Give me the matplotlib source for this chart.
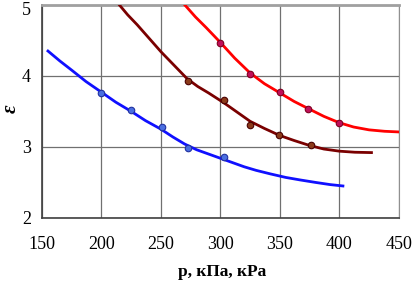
import matplotlib
matplotlib.use("Agg")
import matplotlib.pyplot as plt
import matplotlib.transforms as mtransforms

# blue curve + points
blue_p = [155, 165, 175, 187, 200, 212, 225, 237, 250, 260, 270, 280, 290, 300, 310, 320,
          330, 342, 355, 367, 380, 392, 403]
blue_e = [4.35, 4.21, 4.08, 3.92, 3.77, 3.63, 3.50, 3.37, 3.25, 3.14, 3.04, 2.96, 2.90, 2.84,
          2.78, 2.72, 2.67, 2.62, 2.57, 2.535, 2.50, 2.47, 2.45]
blue_pts_p = [200, 225, 251, 273, 303]
blue_pts_e = [3.76, 3.52, 3.28, 2.98, 2.86]

# dark red curve + points
dred_p = [215, 222, 230, 240, 250, 261, 272, 281, 290, 303, 314, 325, 337, 350, 362, 375,
          387, 400, 413, 427]
dred_e = [5.0, 4.86, 4.72, 4.53, 4.34, 4.15, 3.96, 3.85, 3.76, 3.62, 3.49, 3.36, 3.26, 3.16,
          3.09, 3.02, 2.97, 2.94, 2.925, 2.92]
dred_pts_p = [273, 303, 325, 349, 376]
dred_pts_e = [3.93, 3.66, 3.31, 3.17, 3.03]

# red curve + points
red_p = [270, 279, 288, 300, 312, 325, 337, 350, 362, 375, 387, 400, 412, 425, 438, 451]
red_e = [5.0, 4.83, 4.68, 4.47, 4.25, 4.04, 3.89, 3.76, 3.64, 3.53, 3.43, 3.34, 3.28, 3.24,
         3.22, 3.21]
red_pts_p = [300, 325, 350, 374, 400]
red_pts_e = [4.47, 4.03, 3.77, 3.53, 3.33]

xticks = [150, 200, 250, 300, 350, 400, 450]
yticks = [2, 3, 4, 5]

plt.rcParams['font.family'] = ['Liberation Serif', 'DejaVu Serif']

fig = plt.figure(figsize=(4.12, 2.86), dpi=100)
ax = fig.add_axes([0.102, 0.238, 0.866, 0.745])

ax.plot(blue_p, blue_e, color="#1010ff", lw=2, zorder=3)
ax.plot(dred_p, dred_e, color="#7a0000", lw=2, zorder=3)
ax.plot(red_p, red_e, color="#ff0000", lw=2, zorder=3)

ax.scatter(blue_pts_p, blue_pts_e, s=22, color="#4a6fe0", edgecolors="#2030a0", lw=0.8, zorder=4)
ax.scatter(dred_pts_p, dred_pts_e, s=22, color="#8b3a1a", edgecolors="#4a0000", lw=0.8, zorder=4)
ax.scatter(red_pts_p, red_pts_e, s=22, color="#c0105a", edgecolors="#800020", lw=0.8, zorder=4)

ax.set_xlim(150, 450)
ax.set_ylim(2, 5)
ax.set_xticks(xticks)
ax.set_yticks(yticks)
ax.tick_params(length=0, labelsize=13, pad=8)
ax.tick_params(axis='x', pad=13)
ax.grid(True, color="#707070", lw=0.9)

# top label sits at the very edge, nudge it down a touch so it stays visible
top_lbl = ax.get_yticklabels()[-1]
top_lbl.set_transform(top_lbl.get_transform() +
                      mtransforms.ScaledTranslation(0, -2.5 / 72, fig.dpi_scale_trans))

for side in ["left", "bottom"]:
    ax.spines[side].set_color("#404040")
    ax.spines[side].set_linewidth(1.2)
ax.spines["top"].set_color("#a0a0a0")
ax.spines["top"].set_linewidth(2)
ax.spines["right"].set_color("#909090")

fig.text(0.54, 0.048, "p, кПа, кРа", fontsize=12.5, fontweight="bold", ha="center", va="center")
fig.text(0.026, 0.62, "ε", fontsize=15, fontweight="bold", style="italic",
         rotation=90, ha="center", va="center")

plt.savefig("out.png", dpi=100)
